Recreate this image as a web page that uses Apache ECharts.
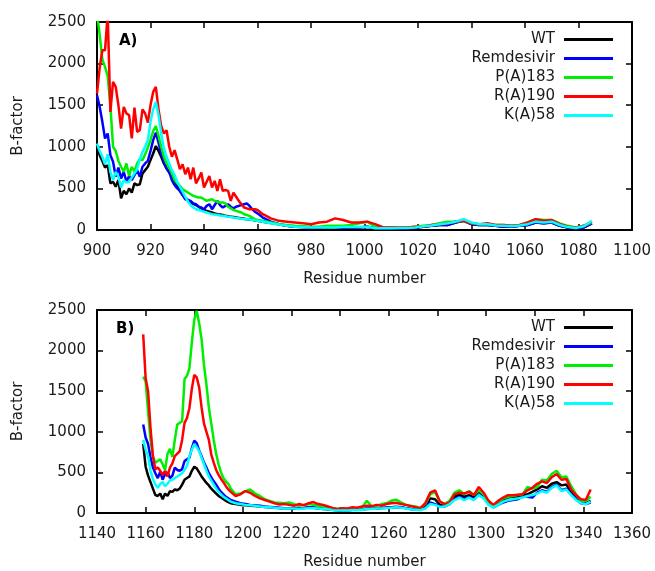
<!DOCTYPE html>
<html><head><meta charset="utf-8">
<script src="https://cdn.jsdelivr.net/npm/echarts@6/dist/echarts.min.js"></script>
<style>html,body{margin:0;padding:0;background:#fff}#c{width:655px;height:571px}</style>
</head><body><div id="c"></div>
<script>
const seriesNames = ['WT', 'Remdesivir', 'P(A)183', 'R(A)190', 'K(A)58'];
const seriesColors = ['#000000', '#0000ff', '#00ee00', '#ff0000', '#00ffff'];

const xTicksTop = [900, 1100, 20];
const xTicksBot = [1140, 1360, 20];
const yTicks = [0, 2500, 500];

// Panel A residues
const resTop = [900,901,902,903,904,905,906,907,908,909,910,911,912,913,914,915,916,917,918,919,
920,921,922,923,924,925,926,927,928,929,930,931,932,933,934,935,936,937,938,939,
940,941,942,943,944,945,946,947,948,949,950,951,952,953,954,955,956,957,958,959,960,
962,965,968,971,974,977,980,983,986,989,992,995,998,1001,1004,1007,1010,1013,1016,1019,
1022,1025,1028,1031,1034,1037,1040,1043,1046,1049,1052,1055,1058,1061,1064,1067,1070,1073,1076,1079,1082,1085];

const wtTop = [990,900,830,750,780,560,580,520,600,380, 470,430,500,450,560,540,550,680,720,760,
840,920,1010,950,880,800,740,690,650,580, 520,470,420,390,360,330,315,300,280,260,
240,230,220,210,200,190,185,180,170,165, 160,155,150,145,140,135,130,128,125,115, 110,
100,85,70,50,40,35,30,30,30,30, 30,30,30,40,20,20,20,20,20,30,
40,50,60,60,90,110,70,60,60,50, 40,40,50,60,90,80,90,50,30,20, 30,80];

const remTop = [1620,1480,1300,1100,1160,900,820,640,750,620, 700,580,650,600,660,720,640,760,800,830,
950,1080,1170,1050,920,820,740,700,600,540, 500,470,420,370,360,350,320,310,280,270,
250,290,310,250,300,350,300,270,290,310, 280,260,280,290,300,310,320,290,250,220, 200,
150,100,70,50,40,35,30,30,30,30, 30,30,30,40,20,20,20,20,20,30,
40,50,60,60,90,110,70,60,60,50, 40,40,50,60,90,80,90,50,30,20, 30,80];

const p183Top = [2600,2350,2050,1960,1850,1500,1000,950,830,760, 700,800,650,760,700,800,850,840,910,990,
1080,1190,1250,1130,1000,880,800,750,680,600, 560,530,490,470,450,430,410,400,390,390,
370,350,360,370,350,340,330,330,320,280, 260,240,230,220,210,190,180,170,150,130, 120,
110,90,70,60,50,45,40,40,50,50, 50,60,80,100,40,30,30,30,30,40,
50,60,80,100,100,110,80,70,70,60, 60,50,60,90,130,120,120,80,50,30, 50,90];

const r190Top = [1640,1950,2160,2160,2600,1420,1780,1720,1500,1220, 1480,1400,1380,1100,1470,1180,1200,1450,1400,1290,
1500,1660,1720,1450,1250,1160,1200,1000,880,960, 850,730,790,670,750,610,750,560,620,690,
510,580,650,510,590,470,610,470,480,470, 350,450,400,350,310,270,260,250,250,250, 240,
190,140,110,100,90,80,70,90,100,140, 120,90,90,100,70,30,30,30,30,40,
40,60,70,80,100,110,80,70,80,60, 60,50,60,90,130,110,120,70,40,30, 50,100];

const k58Top = [1040,950,880,790,910,700,600,700,640,510, 600,570,580,630,680,730,850,940,1000,1080,
1300,1450,1540,1380,1160,980,880,800,720,660, 580,520,460,400,340,300,270,250,240,230,
220,210,200,190,185,180,175,170,165,160, 155,150,145,140,135,130,130,128,120,115, 110,
100,80,65,50,40,35,30,30,30,30, 35,35,35,40,20,20,20,25,25,30,
45,55,70,80,100,130,90,70,70,55, 50,45,55,70,100,90,100,60,35,25, 45,110];

// Panel B residues
const resBot = [1159,1160,1161,1162,1163,1164,1165,1166,1167,1168,1169,1170,1171,1172,1173,1174,1175,1176,1177,1178,
1179,1180,1181,1182,1183,1184,1185,1186,1187,1188,1189,1190,1191,1192,1193,1194,1195,
1197,1199,1201,1203,1205,1207,1209,1211,1213,1215,1217,1219,1221,1223,1225,1227,1229,1231,1233,1235,
1237,1239,1241,1243,1245,1247,1249,1251,1253,1255,1257,1259,1261,1263,1265,1267,1269,1271,1273,1275,
1277,1279,1281,1283,1285,1287,1289,1291,1293,1295,1297,1299,1301,1303,1305,1307,1309,1311,1313,1315,
1317,1319,1321,1323,1325,1327,1329,1331,1333,1335,1337,1339,1341,1343];

const wtBot = [850,570,460,380,300,220,210,240,170,240, 210,270,260,290,280,300,350,410,430,450,
520,570,550,500,450,410,370,340,300,270, 240,210,190,170,150,135,120,
110,100,95,90,85,80,75,70,65,60, 60,60,55,55,60,70,65,55,50,45,
40,35,35,35,40,40,45,50,55,55, 60,65,70,75,70,60,50,45,40,80,
180,170,100,90,130,200,230,200,220,190, 270,210,120,80,120,160,190,200,200,220,
230,260,290,330,310,360,380,340,350,260, 180,130,120,150];

const remBot = [1090,930,850,690,560,490,430,510,410,480, 500,430,460,560,530,520,540,640,660,680,
800,890,860,770,700,620,560,490,440,390, 350,300,260,230,200,180,160,
140,120,110,100,95,90,80,75,70,65, 60,60,60,55,60,70,70,60,55,50,
40,35,35,35,40,40,45,55,55,60, 60,65,70,75,70,60,50,45,40,60,
130,110,80,80,110,170,200,170,200,170, 230,190,110,70,100,130,150,160,170,200,
200,190,250,280,260,320,350,280,300,230, 170,120,110,130];

const p183Bot = [1680,1620,1250,900,700,620,640,660,600,530, 730,790,690,900,1090,1110,1130,1650,1690,1780,
2100,2380,2490,2340,2140,1820,1580,1300,1100,900, 730,600,500,430,390,360,300,
230,240,270,290,240,210,170,150,130,125, 120,130,110,90,100,110,100,90,80,70,
60,50,55,50,60,60,70,150,80,90, 110,120,150,165,130,100,90,80,60,110,
230,260,140,110,150,250,280,230,270,220, 280,230,130,90,140,180,200,210,220,230,
320,300,320,410,400,480,520,440,450,330, 230,150,150,200];

const r190Bot = [2200,1660,1500,1050,700,540,560,520,470,520, 450,560,610,700,730,760,900,1110,1170,1290,
1530,1700,1670,1550,1300,1100,1000,900,720,620, 530,470,420,380,330,290,260,
210,230,270,250,210,180,160,140,120,105, 110,100,90,110,95,120,135,110,100,80,
60,50,60,55,70,65,80,90,85,100, 90,110,120,125,110,100,85,70,60,120,
250,280,140,110,130,230,250,240,260,220, 320,250,150,100,150,190,220,220,225,230,
280,310,360,390,370,440,480,410,420,290, 220,170,160,290];

const k58Bot = [900,780,700,520,420,350,310,360,380,330, 360,400,410,430,450,470,490,530,580,700,
780,850,810,760,680,600,520,450,400,350, 300,260,230,200,180,160,140,
120,110,100,95,90,80,75,70,65,60, 55,55,55,50,55,60,60,55,50,45,
35,30,30,30,35,35,40,50,50,55, 55,60,65,70,65,55,45,40,35,55,
110,100,75,80,110,160,190,160,190,160, 220,180,100,70,100,140,160,170,180,190,
210,220,240,270,250,310,340,270,290,220, 160,120,110,140];

const topVals = [wtTop, remTop, p183Top, r190Top, k58Top];
const botVals = [wtBot, remBot, p183Bot, r190Bot, k58Bot];

const FONT = 'DejaVu Sans';
const TXT = '#1a1a1a';

function xAx(grid, rng, main) {
  return {
    type: 'value', gridIndex: grid, min: rng[0], max: rng[1], interval: rng[2],
    position: main ? 'bottom' : 'top',
    axisLine: { show: true, onZero: false, lineStyle: { color: '#000', width: 2 } },
    axisTick: { show: true, inside: true, length: 6, lineStyle: { color: '#000', width: 1.5 } },
    axisLabel: { show: main, fontFamily: FONT, fontSize: 15, color: TXT, margin: 14,
                 formatter: v => String(v) },
    splitLine: { show: false },
    name: main ? 'Residue number' : '', nameLocation: 'middle', nameGap: 42,
    nameTextStyle: { fontFamily: FONT, fontSize: 15, color: TXT }
  };
}
function yAx(grid, main) {
  return {
    type: 'value', gridIndex: grid, min: yTicks[0], max: yTicks[1], interval: yTicks[2],
    position: main ? 'left' : 'right',
    axisLine: { show: true, onZero: false, lineStyle: { color: '#000', width: 2 } },
    axisTick: { show: true, inside: true, length: 6, lineStyle: { color: '#000', width: 1.5 } },
    axisLabel: { show: main, fontFamily: FONT, fontSize: 15, color: TXT, margin: 11,
                 formatter: v => String(v) },
    splitLine: { show: false },
    name: main ? 'B-factor' : '', nameLocation: 'middle', nameGap: 71, nameRotate: 90,
    nameTextStyle: { fontFamily: FONT, fontSize: 15, color: TXT }
  };
}

const series = [];
seriesNames.forEach((n, i) => {
  series.push({
    name: n, type: 'line', xAxisIndex: 0, yAxisIndex: 0, showSymbol: false, symbol: 'none',
    data: resTop.map((r, j) => [r, topVals[i][j]]),
    lineStyle: { color: seriesColors[i], width: 2.5 }, itemStyle: { color: seriesColors[i] },
    z: 2 + i, clip: true, animation: false
  });
  series.push({
    name: n, type: 'line', xAxisIndex: 2, yAxisIndex: 2, showSymbol: false, symbol: 'none',
    data: resBot.map((r, j) => [r, botVals[i][j]]),
    lineStyle: { color: seriesColors[i], width: 2.5 }, itemStyle: { color: seriesColors[i] },
    z: 2 + i, clip: true, animation: false
  });
});

const legendTopY = [39, 58, 77, 96, 115];
const legendBotY = [327, 346, 365, 384, 403];
const legends = [];
seriesNames.forEach((n, i) => {
  [legendTopY, legendBotY].forEach(arr => {
    legends.push({
      data: [n], right: 42, top: arr[i] - 7, padding: 0, align: 'right',
      icon: 'rect', itemWidth: 49, itemHeight: 3, selectedMode: false,
      textStyle: { fontFamily: FONT, fontSize: 15, color: TXT, padding: [0, 4, 0, 0] }
    });
  });
});

const chart = echarts.init(document.getElementById('c'), null, { renderer: 'canvas' });
chart.setOption({
  animation: false,
  backgroundColor: '#fff',
  grid: [
    { left: 97, top: 22, width: 535, height: 208 },
    { left: 97, top: 310, width: 535, height: 207 }
  ],
  xAxis: [xAx(0, xTicksTop, true), xAx(0, xTicksTop, false), xAx(1, xTicksBot, true), xAx(1, xTicksBot, false)],
  yAxis: [yAx(0, true), yAx(0, false), yAx(1, true), yAx(1, false)],
  legend: legends,
  graphic: [
    { type: 'text', left: 119, top: 34, style: { text: 'A)', font: 'bold 15px "DejaVu Sans"', fill: '#000' } },
    { type: 'text', left: 116, top: 322, style: { text: 'B)', font: 'bold 15px "DejaVu Sans"', fill: '#000' } }
  ],
  series: series
});
</script></body></html>
